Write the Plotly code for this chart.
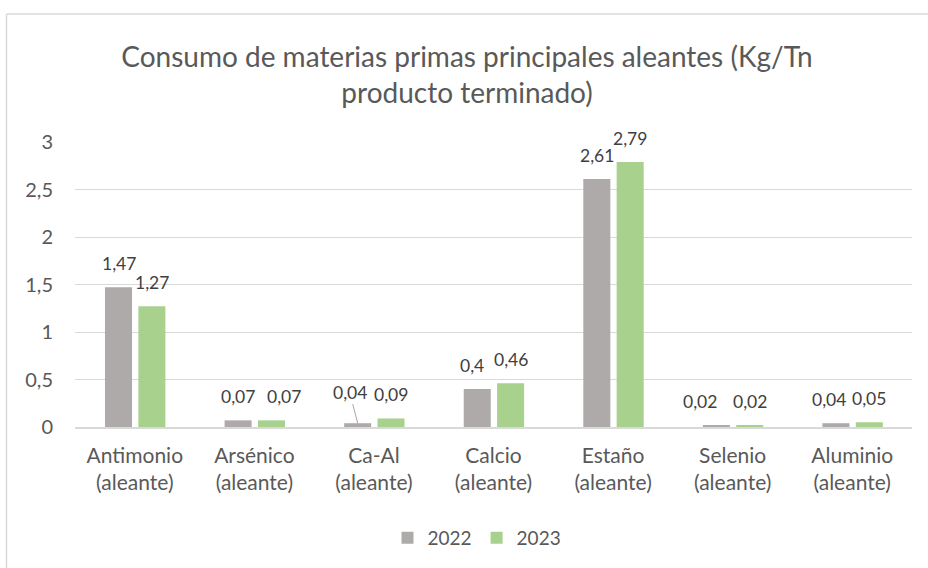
import plotly.graph_objects as go

categories = ["Antimonio<br>(aleante)", "Arsénico<br>(aleante)", "Ca-Al<br>(aleante)",
              "Calcio<br>(aleante)", "Estaño<br>(aleante)", "Selenio<br>(aleante)",
              "Aluminio<br>(aleante)"]
values_2022 = [1.47, 0.07, 0.04, 0.4, 2.61, 0.02, 0.04]
values_2023 = [1.27, 0.07, 0.09, 0.46, 2.79, 0.02, 0.05]
series_names = ["2022", "2023"]
y_ticks = [0, 0.5, 1, 1.5, 2, 2.5, 3]
y_tick_labels = ["0", "0,5", "1", "1,5", "2", "2,5", "3"]

# label placement nudges (pixels), to mimic the original's collision avoidance
nudge_2022 = [0, 0, 0, -5, 0, -16, -7]
nudge_2023 = [0, 13, 0, 0, 0, 0, 0]

GREY = "#AEAAAA"
GREEN = "#A9D18E"
TXT = "#595959"
LBL = "#404040"

W, H = 928, 568
L, R, T, B = 75, 16, 142, 140
pw, ph = W - L - R, H - T - B
cat_px = pw / len(categories)

def fmt(v):
    return ("%g" % v).replace(".", ",")

fig = go.Figure()
bar_w = 0.226
offsets = [-0.249, 0.03]
for name, vals, col, off in [(series_names[0], values_2022, GREY, offsets[0]),
                             (series_names[1], values_2023, GREEN, offsets[1])]:
    fig.add_trace(go.Bar(x=categories, y=vals, name=name, marker_color=col,
                         marker_line_width=0, width=bar_w, offset=off,
                         hoverinfo="skip"))

LBL_SIZE = 17.5
annotations = []
for vals, off, nudges in [(values_2022, offsets[0], nudge_2022),
                          (values_2023, offsets[1], nudge_2023)]:
    shift = (off + bar_w / 2) * cat_px
    for c, v, n in zip(categories, vals, nudges):
        if c.startswith("Ca-Al") and vals is values_2022:
            annotations.append(dict(x=c, y=v, xref="x", yref="y", xshift=shift,
                                    text=fmt(v), showarrow=True, arrowhead=0,
                                    arrowwidth=1, arrowcolor="#A6A6A6", ax=-8, ay=-31,
                                    standoff=0,
                                    font=dict(family="Lato", size=LBL_SIZE, color=LBL)))
        else:
            annotations.append(dict(x=c, y=v, xref="x", yref="y", xshift=shift + n,
                                    yshift=23.5, yanchor="middle", text=fmt(v),
                                    showarrow=False,
                                    font=dict(family="Lato", size=LBL_SIZE, color=LBL)))

# chart border (left/top visible)
x_left = (6.5 - L) / pw
y_top = (H - B - 13.5) / ph
shapes = [
    dict(type="line", xref="paper", yref="paper", x0=x_left, x1=x_left, y0=y_top, y1=-1,
         line=dict(color="#D9D9D9", width=1.5)),
    dict(type="line", xref="paper", yref="paper", x0=x_left, x1=1.2, y0=y_top, y1=y_top,
         line=dict(color="#D9D9D9", width=1.5)),
]

fig.update_layout(
    width=W, height=H,
    margin=dict(l=L, r=R, t=T, b=B),
    paper_bgcolor="white", plot_bgcolor="white",
    barmode="overlay",
    font=dict(family="Lato", color=TXT),
    title=dict(text="Consumo de materias primas principales aleantes (Kg/Tn<br>producto terminado)",
               x=467 / W, xanchor="center", y=1 - 67 / H, yanchor="middle",
               font=dict(family="Lato", size=28, color=TXT)),
    xaxis=dict(showgrid=False, showline=True, linecolor="#D9D9D9", linewidth=1.5,
               ticks="", tickfont=dict(size=21, color=TXT), ticklabelstandoff=9,
               fixedrange=True),
    yaxis=dict(range=[0, 3], tickvals=y_ticks, ticktext=y_tick_labels,
               showgrid=True, gridcolor="#D9D9D9", gridwidth=1, zeroline=False,
               ticks="", tickfont=dict(size=20, color=TXT), ticklabelstandoff=21,
               fixedrange=True),
    legend=dict(orientation="h", x=(477 - L) / pw, xanchor="center",
                y=(H - B - 538) / ph, yanchor="middle",
                font=dict(size=19, color=TXT)),
    annotations=annotations,
    shapes=shapes,
    showlegend=True,
)

fig.write_html("out.html", config={"displayModeBar": False},
               post_script="document.body.style.margin='0';")
